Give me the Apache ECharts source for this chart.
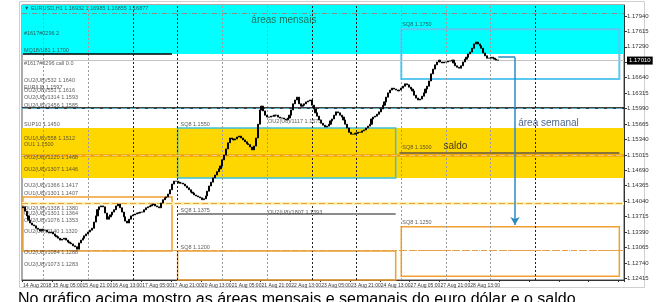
<!DOCTYPE html>
<html><head><meta charset="utf-8">
<script src="https://cdn.jsdelivr.net/npm/echarts@6/dist/echarts.min.js"></script>
<style>html,body{margin:0;padding:0;background:#fff;}#c{width:656px;height:302px;}</style>
</head><body><div id="c"></div>
<script>
// EURUSD H1 closes, 14 Aug 2018 13:00 onwards
const firstOpen = 1.1390;
const closes = [
1.1392,1.1383,1.1373,1.1364,1.1358,1.1354,1.1352,1.1347,1.1345,1.1341,
1.1345,1.1343,1.1343,1.1339,1.1337,1.1339,1.1335,1.1331,1.1329,1.1326,
1.1322,1.1324,1.1326,1.1322,1.1318,1.1316,1.1314,1.1310,1.1308,1.1303,
1.1316,1.1322,1.1326,1.1331,1.1335,1.1339,1.1343,1.1347,1.1360,1.1373,
1.1386,1.1392,1.1394,1.1392,1.1379,1.1366,1.1371,1.1375,1.1381,1.1386,
1.1394,1.1398,1.1390,1.1381,1.1371,1.1362,1.1358,1.1366,1.1373,1.1375,
1.1377,1.1379,1.1379,1.1381,1.1381,1.1386,1.1390,1.1392,1.1394,1.1396,
1.1398,1.1394,1.1392,1.1390,1.1400,1.1407,1.1411,1.1413,1.1419,1.1428,
1.1440,1.1446,1.1446,1.1444,1.1442,1.1442,1.1440,1.1436,1.1432,1.1428,
1.1423,1.1421,1.1417,1.1415,1.1413,1.1411,1.1407,1.1409,1.1415,1.1425,
1.1436,1.1444,1.1453,1.1459,1.1466,1.1472,1.1478,1.1491,1.1501,1.1514,
1.1527,1.1537,1.1535,1.1533,1.1535,1.1539,1.1541,1.1537,1.1533,1.1529,
1.1525,1.1523,1.1518,1.1512,1.1520,1.1537,1.1566,1.1596,1.1604,1.1594,
1.1585,1.1581,1.1581,1.1583,1.1583,1.1585,1.1585,1.1581,1.1579,1.1579,
1.1577,1.1575,1.1579,1.1585,1.1596,1.1609,1.1617,1.1623,1.1609,1.1604,
1.1606,1.1609,1.1613,1.1615,1.1617,1.1606,1.1598,1.1590,1.1583,1.1575,
1.1568,1.1564,1.1560,1.1562,1.1566,1.1573,1.1577,1.1585,1.1592,1.1590,
1.1585,1.1581,1.1575,1.1566,1.1558,1.1549,1.1545,1.1545,1.1547,1.1547,
1.1549,1.1549,1.1552,1.1554,1.1558,1.1562,1.1566,1.1577,1.1581,1.1583,
1.1587,1.1592,1.1598,1.1606,1.1613,1.1623,1.1632,1.1638,1.1642,1.1640,
1.1638,1.1636,1.1638,1.1642,1.1646,1.1651,1.1649,1.1644,1.1640,1.1636,
1.1627,1.1621,1.1617,1.1619,1.1625,1.1632,1.1640,1.1646,1.1657,1.1672,
1.1682,1.1691,1.1697,1.1701,1.1697,1.1695,1.1697,1.1697,1.1699,1.1699,
1.1701,1.1695,1.1689,1.1686,1.1684,1.1689,1.1697,1.1703,1.1707,1.1714,
1.1718,1.1726,1.1735,1.1739,1.1735,1.1731,1.1726,1.1716,1.1710,1.1705,
1.1705,1.1707,1.1705,1.1703,1.1701,1.1701
];
const totalBars = 323;
const xTickLabels = ['14 Aug 2018','15 Aug 05:00','15 Aug 21:00','16 Aug 13:00','17 Aug 05:00','17 Aug 21:00','20 Aug 13:00','21 Aug 05:00','21 Aug 21:00','22 Aug 13:00','23 Aug 05:00','23 Aug 21:00','24 Aug 13:00','27 Aug 05:00','27 Aug 21:00','28 Aug 13:00'];
const yTicks = [1.17940,1.17615,1.17290,1.16965,1.16640,1.16315,1.15990,1.15665,1.15340,1.15015,1.14690,1.14365,1.14040,1.13715,1.13390,1.13065,1.12740,1.12415];
const daySeparators = [11,35,59,83,107,131,155,179,203,227,251,275];
const strongSeparators = [59,83,155,179,275];

// zones [low, high]
const monthlyZones = [[1.1714, 1.1817], [1.1453, 1.1558]];
// boxes [fromBar, toBar, low, high]
const weeklyBoxes = [[203,320,1.1661,1.1766],[83,200,1.1453,1.1558],[0,80,1.1299,1.1413],[83,200,1.1180,1.1299],[203,320,1.1246,1.1350]];
// full-width levels
const fullLevels = [1.1752,1.1714,1.1686,1.1651,1.1636,1.1630,1.1611,1.1594,1.1518,1.1506,1.1482,1.1457,1.1419,1.1413,1.1408,1.1373,1.1364,1.1331,1.1286,1.1278,1.1259];
// partial levels [fromBar, toBar, price]
const partialLevels = [[0,80,1.1714],[202,320,1.1506],[83,200,1.1377]];
// arrow [fromBar, toBar, startPrice, endPrice]
const arrowPath = [255, 264, 1.1707, 1.1354];
// small level labels [bar, price, text]
const levelLabels = [
 [0,1.1809,'▼ EURUSD,H1 1.16932 1.16985 1.16855 1.16877'],
 [0,1.1758,'#1617#0296 2'],
 [0,1.1722,'MQ18/U81 1.1700'],
 [0,1.1693,'#1617#0296 call 0.0'],
 [0,1.1659,'OU2(U8)/532 1.1640'],
 [0,1.1644,'EUR/U8 1.1597'],
 [0,1.1638,'OU2(U8)/551 1.1616'],
 [0,1.1622,'OU2(U8)/1314 1.1593'],
 [0,1.1605,'OU2(U8)/1456 1.1585'],
 [0,1.1566,'SUP10 1.1450'],
 [84,1.1566,'SQ8 1.1550'],
 [131,1.1572,'OU2(U8)/1117 1.1573'],
 [0,1.1536,'OU1(U8)/558 1.1512'],
 [0,1.1524,'OU1 1.1500'],
 [0,1.1495,'OU2(U8)/1220 1.1468'],
 [0,1.1470,'OU2(U8)/1307 1.1446'],
 [0,1.1438,'OU2(U8)/1366 1.1417'],
 [0,1.1420,'OU1(U8)/1301 1.1407'],
 [0,1.1388,'OU2(U8)/1338 1.1380'],
 [0,1.1377,'OU2(U8)/1301 1.1364'],
 [0,1.1364,'OU2(U8)/1076 1.1353'],
 [0,1.1341,'OU2(U8)/1140 1.1320'],
 [0,1.1295,'OU2(U8)/1084 1.1288'],
 [0,1.1270,'OU2(U8)/1073 1.1283'],
 [84,1.1384,'SQ8 1.1375'],
 [131,1.1380,'OU2(U8)/1807 1.1393'],
 [84,1.1306,'SQ8 1.1200'],
 [203,1.1777,'SQ8 1.1750'],
 [203,1.1516,'SQ8 1.1500'],
 [203,1.1360,'SQ8 1.1250']
];
// annotations [bar, price, text]
const notes = [[140,1.1785,'áreas mensais'],[232,1.1520,'saldo'],[282,1.1569,'área semanal']];

const levelStyles = [
 ['#8a8a8a',1,[5,2,1,2]],['#c8643c',1.2,'solid'],['#cdeebc',1,[5,2,1,2]],['#6cc4dc',1,[5,2,1,2]],
 ['#000000',1.5,'solid'],['#bff2f7',1.2,[6,3]],['#bff2f7',1.2,[6,3]],['#5fb0c8',1,[6,3]],
 ['#9cc23c',1,[5,2,1,2]],['#f0a000',2.5,'solid'],['#f0b848',1,[6,3]],['#e6c88c',1.2,[6,3]],
 ['#f3ddb0',1.2,[6,3]],['#f3ddb0',1.2,[6,3]],['#d8b478',1.2,[6,3]],['#fff0b4',3,'solid'],
 ['#e8a040',1,[6,3]],['#e0b070',1.2,[6,3]],['#d8a860',1,[5,2,1,2]],['#e0b070',1,[6,3]],['#e8a040',1.2,[6,3]]
];
const partialStyles = [['#000000',1.5],['#8b7536',2],['#8c8c8c',2]];
const boxStyles = [['#5cc8f0',2],['#3cc0dc',1.5],['#f0a030',1.5],['#f0a030',1.5],['#f0a030',1.5]];
const zoneColors = ['#00ffff','#ffd700'];
const noteColors = ['#1d4d33','#111111','#1f3f6f'];

const cats = Array.from({length: totalBars}, (_, i) => String(i));
const candleData = closes.map((c, i) => {
  const o = i === 0 ? firstOpen : closes[i - 1];
  return [o, c, Math.min(o, c), Math.max(o, c)];
});
const lastClose = closes[closes.length - 1];
const font = 'Liberation Sans, Arial, sans-serif';

const chart = echarts.init(document.getElementById('c'), null, {renderer: 'canvas'});
chart.setOption({
  animation: false,
  backgroundColor: '#fff',
  grid: {left: 22, right: 32, top: 5, bottom: 22, show: true, borderColor: '#555', borderWidth: 1, backgroundColor: '#fff'},
  graphic: [
    {type: 'rect', shape: {x: 19.5, y: 1.5, width: 625, height: 286}, style: {fill: 'none', stroke: '#d0d0d0', lineWidth: 1}, z: 0},
    {type: 'text', left: 18, top: 292, style: {text: 'No gráfico acima mostro as áreas mensais e semanais do euro dólar e o saldo', fill: '#000', font: '16px Liberation Sans, Arial, sans-serif'}}
  ],
  xAxis: {
    type: 'category', data: cats, boundaryGap: true,
    axisLine: {lineStyle: {color: '#333', width: 1}},
    axisTick: {show: true, interval: 15, length: 2, lineStyle: {color: '#333'}},
    axisLabel: {interval: 15, hideOverlap: false, fontSize: 5, color: '#333', fontFamily: font, align: 'left', margin: 3,
      formatter: (v, i) => (i % 16 === 0 && i / 16 < xTickLabels.length) ? xTickLabels[i / 16] : ''},
    splitLine: {show: false}
  },
  yAxis: {
    type: 'value', position: 'right', min: 1.1238, max: 1.1817, scale: true,
    axisLine: {show: true, lineStyle: {color: '#333'}},
    axisTick: {show: true, length: 3, customValues: yTicks, lineStyle: {color: '#333'}},
    axisLabel: {customValues: yTicks, fontSize: 6, color: '#333', fontFamily: font, margin: 3, formatter: v => v.toFixed(5)},
    splitLine: {show: false}
  },
  series: [
    {
      type: 'line', data: [], z: 1, silent: true,
      markArea: {silent: true, data: monthlyZones.map((z, i) => [
        {yAxis: z[0], itemStyle: {color: zoneColors[i]}}, {yAxis: z[1]}])}
    },
    {
      type: 'line', data: [], z: 2, silent: true,
      markLine: {silent: true, symbol: 'none', label: {show: false},
        data: [
          ...daySeparators.map(k => ({xAxis: k, lineStyle: {color: strongSeparators.includes(k) ? '#222' : '#9a9a9a', width: 1, type: [2, 2]}})),
          ...fullLevels.map((p, i) => ({yAxis: p, lineStyle: {color: levelStyles[i][0], width: levelStyles[i][1], type: levelStyles[i][2]}})),
          ...partialLevels.map((l, i) => [{coord: [l[0], l[2]], lineStyle: {color: partialStyles[i][0], width: partialStyles[i][1], type: 'solid'}}, {coord: [l[1], l[2]]}]),
          {yAxis: lastClose, lineStyle: {color: '#c4c4c4', width: 1, type: 'solid'},
           label: {show: true, position: 'end', formatter: () => lastClose.toFixed(5), backgroundColor: '#000', color: '#fff', fontSize: 6, fontFamily: font, padding: [1, 2], distance: 3}}
        ]},
      markArea: {silent: true, data: weeklyBoxes.map((b, i) => [
        {coord: [b[0], b[2]], itemStyle: {color: 'rgba(0,0,0,0)', borderColor: boxStyles[i][0], borderWidth: boxStyles[i][1]}},
        {coord: [b[1], b[3]]}])}
    },
    {
      type: 'candlestick', data: candleData, z: 5, barWidth: 1.6,
      itemStyle: {color: '#000', color0: '#000', borderColor: '#000', borderColor0: '#000', borderWidth: 1}
    },
    {
      type: 'line', data: [], z: 6, silent: true,
      markLine: {silent: true, label: {show: false}, symbol: ['none', 'none'],
        data: [
          [{coord: [arrowPath[0], arrowPath[2]], lineStyle: {color: '#2a8cc4', width: 1.5, type: 'solid'}}, {coord: [arrowPath[1], arrowPath[2]]}],
          [{coord: [arrowPath[1], arrowPath[2]], lineStyle: {color: '#2a8cc4', width: 1.5, type: 'solid'}}, {coord: [arrowPath[1], arrowPath[3]], symbol: 'arrow', symbolSize: [7, 8]}]
        ]}
    },
    {
      type: 'scatter', z: 7, silent: true, symbolSize: 0,
      data: levelLabels.map(l => [l[0], l[1], l[2]]),
      label: {show: true, position: 'right', distance: 1, formatter: p => p.value[2], fontSize: 5.5, color: '#333', fontFamily: font}
    },
    {
      type: 'scatter', z: 8, silent: true, symbolSize: 0,
      data: notes.map((n, i) => ({value: [n[0], n[1], n[2]], label: {color: noteColors[i]}})),
      label: {show: true, position: 'inside', formatter: p => p.value[2], fontSize: 10, fontFamily: font}
    }
  ]
});
</script>
</body></html>
